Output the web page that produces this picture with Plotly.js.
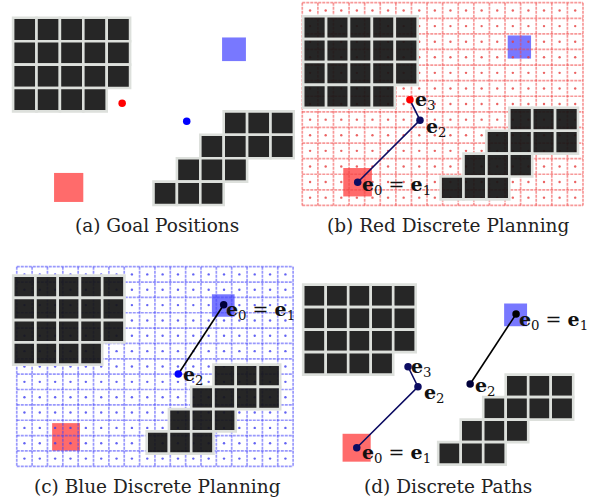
<!DOCTYPE html>
<html>
<head>
<meta charset="utf-8">
<script src="https://cdn.plot.ly/plotly-3.0.1.min.js"></script>
<style>html,body{margin:0;padding:0;background:#fff;}#plot{width:595px;height:503px;}</style>
</head>
<body>
<div id="plot"></div>
<script>
// ---- data (world units: one obstacle cell = 1, y grows downward) ----
const obsCol = [0,1,2,3,4, 0,1,2,3,4, 0,1,2,3,4, 0,1,2,3, 9,10,11, 8,9,10,11, 7,8,9, 6,7,8];
const obsRow = [0,0,0,0,0, 1,1,1,1,1, 2,2,2,2,2, 3,3,3,3, 4,4,4, 5,5,5,5, 6,6,6, 7,7,7];
const redGoalX = [1.75, 3.0];
const redGoalY = [6.63, 7.87];
const blueGoalX = [8.93, 9.95];
const blueGoalY = [0.84, 1.85];
const redPathX = [2.38, 5.10, 4.66];   // e0=e1, e2, e3
const redPathY = [7.25, 4.54, 3.65];
const bluePathX = [9.46, 7.42];        // e0=e1, e2
const bluePathY = [1.31, 4.42];
const redLabels = ['<b>e</b><sub>0</sub> = <b>e</b><sub>1</sub>', '<b>e</b><sub>2</sub>', '<b>e</b><sub>3</sub>'];
const blueLabels = ['<b>e</b><sub>0</sub> = <b>e</b><sub>1</sub>', '<b>e</b><sub>2</sub>'];
const captions = ['(a) Goal Positions', '(b) Red Discrete Planning', '(c) Blue Discrete Planning', '(d) Discrete Paths'];
const gridCols = 18;
const gridRows = 13;

// ---- layout of panels (pixels) ----
const W = 595, H = 503;
const panels = [
  {xa:'x',  ya:'y',  px:[0,295],   py:[0,212],   o:[13.1,17.8],  s:23.4,  grid:null, cap:[157,226]},
  {xa:'x2', ya:'y2', px:[295,595], py:[0,212],   o:[303.2,16.2], s:22.9,  grid:{x0:-0.04,y0:-0.59,p:0.681,line:'rgba(240,70,70,0.55)',dot:'rgba(230,60,60,0.8)'}, cap:[448,226]},
  {xa:'x3', ya:'y3', px:[0,295],   py:[255,478], o:[13.2,275.6], s:22.25, grid:{x0:0.16,y0:-0.40,p:0.690,line:'rgba(70,70,250,0.55)',dot:'rgba(60,60,240,0.8)'}, cap:[157,486]},
  {xa:'x4', ya:'y4', px:[295,595], py:[255,478], o:[303.2,284.6], s:22.5, grid:null, cap:[448,486]}
];

const traces = [];
const shapes = [];
const annotations = [];
const layout = {
  width: W, height: H, margin:{l:0,r:0,t:0,b:0},
  paper_bgcolor:'#ffffff', plot_bgcolor:'rgba(0,0,0,0)', showlegend:false,
  shapes: shapes, annotations: annotations
};

panels.forEach((P, i) => {
  const sfx = i === 0 ? '' : String(i+1);
  const xr = [(P.px[0]-P.o[0])/P.s, (P.px[1]-P.o[0])/P.s];
  const yr = [(P.py[1]-P.o[1])/P.s, (P.py[0]-P.o[1])/P.s];
  layout['xaxis'+sfx] = {domain:[P.px[0]/W, P.px[1]/W], range:xr, visible:false, fixedrange:true, anchor:P.ya};
  layout['yaxis'+sfx] = {domain:[1-P.py[1]/H, 1-P.py[0]/H], range:yr, visible:false, fixedrange:true, anchor:P.xa};
});

function addGoal(P, gx, gy, col) {
  shapes.push({type:'rect', xref:P.xa, yref:P.ya, x0:gx[0], x1:gx[1], y0:gy[0], y1:gy[1],
    fillcolor:col, line:{width:0}, layer:'below'});
}
function addObstacles(P) {
  for (let k = 0; k < obsCol.length; k++) {
    shapes.push({type:'rect', xref:P.xa, yref:P.ya, x0:obsCol[k], x1:obsCol[k]+1, y0:obsRow[k], y1:obsRow[k]+1,
      fillcolor:'rgba(22,22,22,0.93)', line:{color:'#dde0dc', width:2.6}, layer:'above'});
  }
}
function addGrid(P) {
  const g = P.grid;
  const lx = [], ly = [];
  for (let k = 0; k <= gridCols; k++) {
    const x = g.x0 + k*g.p;
    lx.push(x, x, null); ly.push(g.y0, g.y0 + gridRows*g.p, null);
  }
  for (let j = 0; j <= gridRows; j++) {
    const y = g.y0 + j*g.p;
    lx.push(g.x0, g.x0 + gridCols*g.p, null); ly.push(y, y, null);
  }
  traces.push({type:'scatter', mode:'lines', x:lx, y:ly, xaxis:P.xa, yaxis:P.ya, hoverinfo:'skip',
    line:{color:g.line, width:1.7, dash:'3px,1px'}});
  const dx = [], dy = [];
  for (let k = 0; k < gridCols; k++) for (let j = 0; j < gridRows; j++) {
    dx.push(g.x0 + (k+0.5)*g.p); dy.push(g.y0 + (j+0.5)*g.p);
  }
  traces.push({type:'scatter', mode:'markers', x:dx, y:dy, xaxis:P.xa, yaxis:P.ya, hoverinfo:'skip',
    marker:{color:g.dot, size:2.4}});
}
const LABEL_FONT = {family:'DejaVu Serif, Liberation Serif, serif', size:19, color:'#111'};
function addPath(P, xs, ys, lineCol, markerCols, labels, shifts) {
  traces.push({type:'scatter', mode:'lines+markers', x:xs, y:ys, xaxis:P.xa, yaxis:P.ya, hoverinfo:'skip',
    line:{color:lineCol, width:1.6}, marker:{color:markerCols, size:7.5}});
  labels.forEach((t, k) => {
    annotations.push({xref:P.xa, yref:P.ya, x:xs[k], y:ys[k], text:t, showarrow:false,
      xanchor:'left', yanchor:'middle', xshift:shifts[k][0], yshift:shifts[k][1],
      font:LABEL_FONT});
  });
}

const RED = 'rgba(255,0,0,0.58)', BLUE = 'rgba(0,0,255,0.53)';
const NAVY = '#0c0c62';

// (a)
let P = panels[0];
addGoal(P, redGoalX, redGoalY, RED); addGoal(P, blueGoalX, blueGoalY, BLUE);
addObstacles(P);
traces.push({type:'scatter', mode:'markers', x:[redPathX[2], bluePathX[1]], y:[redPathY[2], bluePathY[1]],
  xaxis:P.xa, yaxis:P.ya, marker:{color:['#ff0000','#0000ff'], size:7.5}, hoverinfo:'skip'});
// (b)
P = panels[1];
addGoal(P, redGoalX, redGoalY, RED); addGoal(P, blueGoalX, blueGoalY, BLUE);
addGrid(P); addObstacles(P);
addPath(P, redPathX, redPathY, NAVY, [NAVY, NAVY, '#ff0000'], redLabels, [[2,-3],[4,-7],[3,-1]]);
// (c)
P = panels[2];
addGoal(P, redGoalX, redGoalY, RED); addGoal(P, blueGoalX, blueGoalY, BLUE);
addGrid(P); addObstacles(P);
addPath(P, bluePathX, bluePathY, '#000000', ['#00003a', '#0000ff'], blueLabels, [[0,-6],[3,-2]]);
// (d)
P = panels[3];
addGoal(P, redGoalX, redGoalY, RED); addGoal(P, blueGoalX, blueGoalY, BLUE);
addObstacles(P);
addPath(P, redPathX, redPathY, NAVY, [NAVY, NAVY, NAVY], redLabels, [[3,-6],[4,-7],[1,-1]]);
addPath(P, bluePathX, bluePathY, '#000000', ['#000000', '#00003a'], blueLabels, [[1,-6],[3,-2]]);

// captions
panels.forEach((Q, i) => {
  annotations.push({xref:'paper', yref:'paper', x:Q.cap[0]/W, y:1-Q.cap[1]/H, text:captions[i], showarrow:false,
    xanchor:'center', yanchor:'middle', font:{family:'DejaVu Serif, Liberation Serif, serif', size:18.5, color:'#222'}});
});

Plotly.newPlot('plot', traces, layout, {staticPlot:true, displayModeBar:false});
</script>
</body>
</html>
